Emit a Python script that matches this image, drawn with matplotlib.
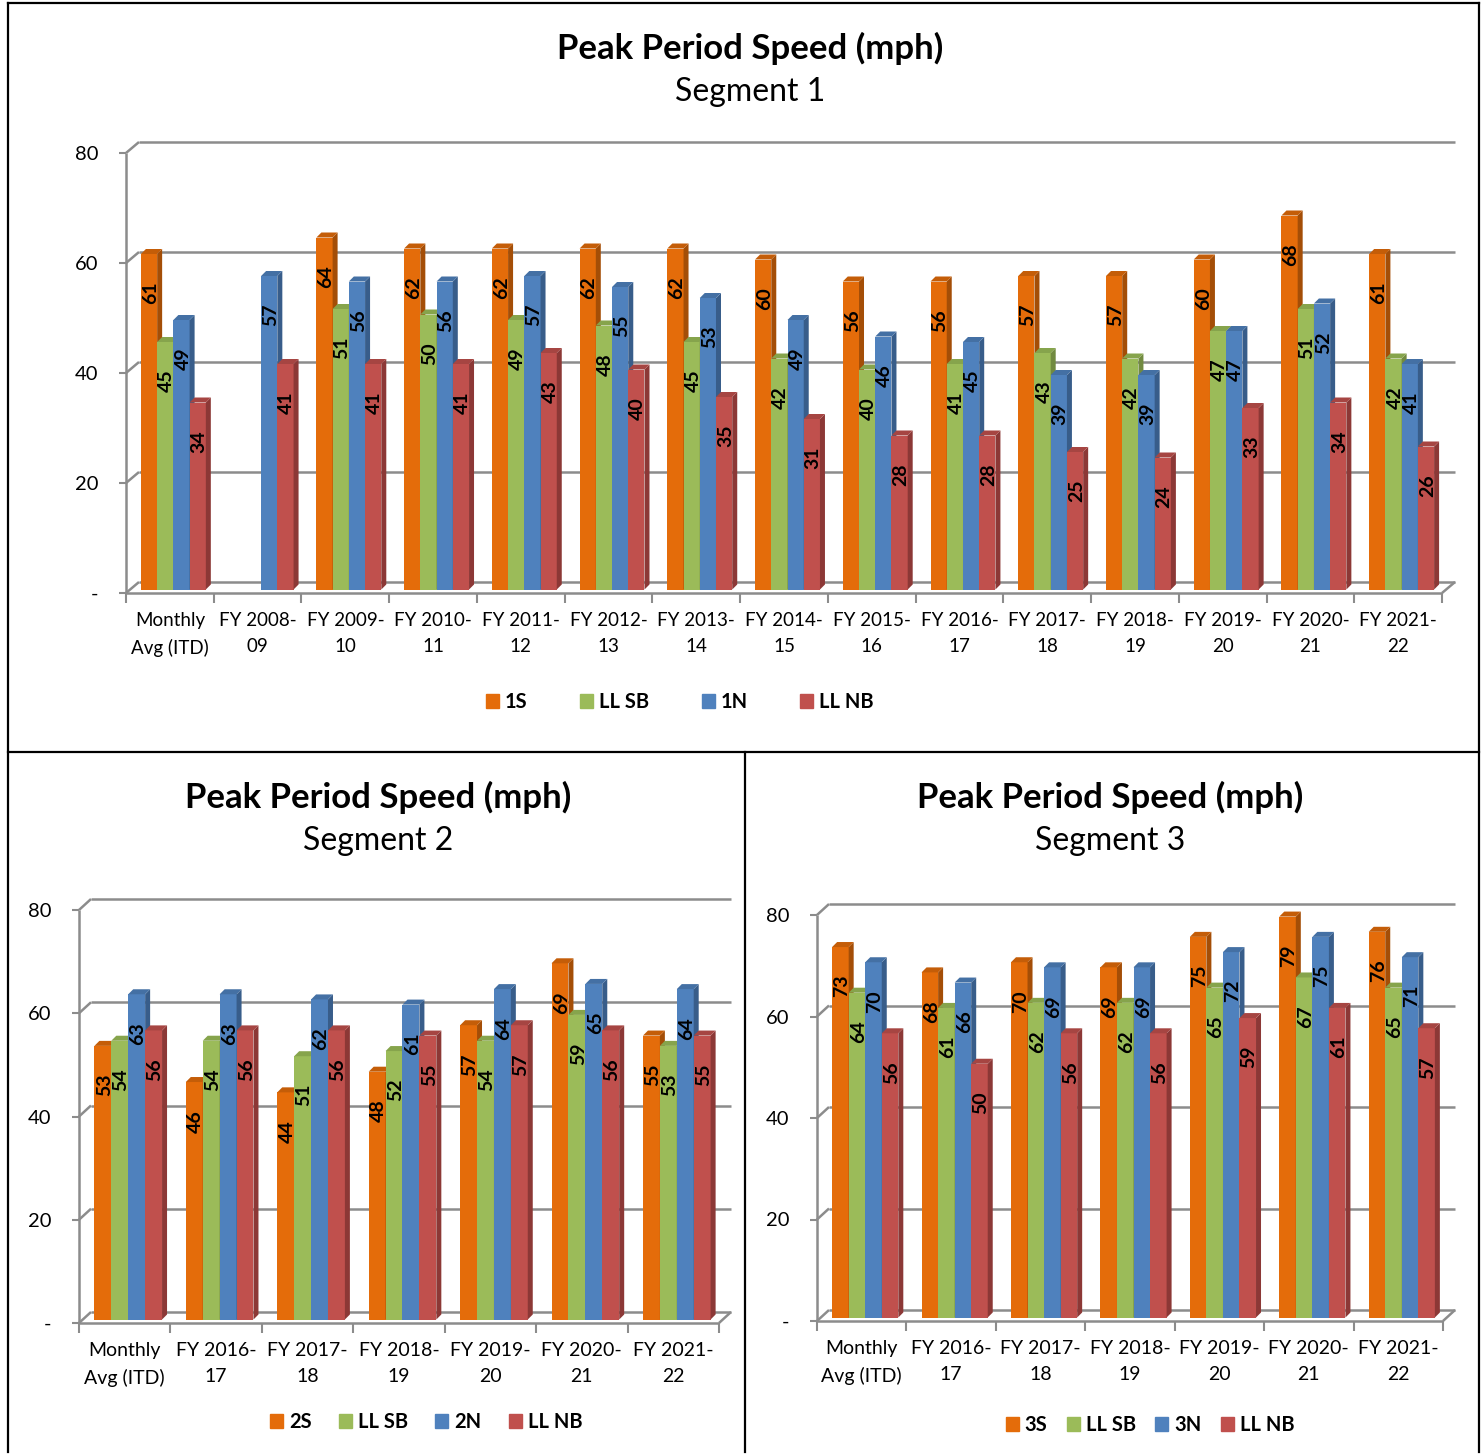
import numpy as np
import matplotlib
matplotlib.use("Agg")
from matplotlib import pyplot as plt
from matplotlib.patches import Polygon, Patch
from matplotlib.lines import Line2D

plt.rcParams['font.family'] = ['Lato', 'DejaVu Sans']

# segment 1
cats_1 = ["Monthly\nAvg (ITD)", "FY 2008-\n09", "FY 2009-\n10", "FY 2010-\n11", "FY 2011-\n12",
          "FY 2012-\n13", "FY 2013-\n14", "FY 2014-\n15", "FY 2015-\n16", "FY 2016-\n17",
          "FY 2017-\n18", "FY 2018-\n19", "FY 2019-\n20", "FY 2020-\n21", "FY 2021-\n22"]
s1_1s = [61, None, 64, 62, 62, 62, 62, 60, 56, 56, 57, 57, 60, 68, 61]
s1_llsb = [45, None, 51, 50, 49, 48, 45, 42, 40, 41, 43, 42, 47, 51, 42]
s1_1n = [49, 57, 56, 56, 57, 55, 53, 49, 46, 45, 39, 39, 47, 52, 41]
s1_llnb = [34, 41, 41, 41, 43, 40, 35, 31, 28, 28, 25, 24, 33, 34, 26]

# segments 2 and 3
cats_23 = ["Monthly\nAvg (ITD)", "FY 2016-\n17", "FY 2017-\n18", "FY 2018-\n19",
           "FY 2019-\n20", "FY 2020-\n21", "FY 2021-\n22"]
s2_2s = [53, 46, 44, 48, 57, 69, 55]
s2_llsb = [54, 54, 51, 52, 54, 59, 53]
s2_2n = [63, 63, 62, 61, 64, 65, 64]
s2_llnb = [56, 56, 56, 55, 57, 56, 55]

s3_3s = [73, 68, 70, 69, 75, 79, 76]
s3_llsb = [64, 61, 62, 62, 65, 67, 65]
s3_3n = [70, 66, 69, 69, 72, 75, 71]
s3_llnb = [56, 50, 56, 56, 59, 61, 57]

yticks = [0, 20, 40, 60, 80]
ytick_labels = ["-", "20", "40", "60", "80"]

# front, side, top colours
colors = [("#E46C0A", "#A44E07", "#C45D08"),
          ("#9BBB59", "#718A40", "#86A44C"),
          ("#4F81BD", "#385D8A", "#4470A4"),
          ("#C0504D", "#8C3836", "#A64542")]
grid_c = "#8C8C8C"

W, H = 1481, 1454
fig = plt.figure(figsize=(W / 100, H / 100), dpi=100)


def fig_box(left, right, y0, y80):
    # pixel box -> figure fraction
    return [left / W, 1 - y0 / H, (right - left) / W, (y0 - y80) / H]


def px_scale(ax):
    p0 = ax.transData.transform((0, 0))
    p1 = ax.transData.transform((1, 1))
    return p1[0] - p0[0], p1[1] - p0[1]


def draw_chart(ax, cats, series, wall=(13, 11), bw=0.185, xsize=14.5):
    n = len(cats)
    ax.set_xlim(-0.5, n - 0.5)
    ax.set_ylim(0, 80)
    for s in ax.spines.values():
        s.set_visible(False)
    sx, sy = px_scale(ax)
    wdx, wdy = wall[0] / sx, wall[1] / sy
    bdx, bdy = 3.5 / sx, 3.5 / sy
    ddx, ddy = 5 / sx, 5 / sy

    # back wall gridlines and floor
    kw = dict(color=grid_c, lw=1.8, clip_on=False, zorder=1, solid_capstyle='butt')
    for v in yticks:
        ax.plot([-0.5, -0.5 + wdx], [v, v + wdy], **kw)
        ax.plot([-0.5 + wdx, n - 0.5 + wdx], [v + wdy, v + wdy], **kw)
    ax.plot([-0.5, -0.5], [0, 80], **kw)
    ax.plot([-0.5, n - 0.5], [0, 0], **kw)
    ax.plot([n - 0.5, n - 0.5 + wdx], [0, wdy], **kw)

    x = np.arange(n)
    for j, vals in enumerate(series):
        front, side, top = colors[j]
        xs = x + (j - 1.5) * bw + bdx
        z = 3 + j
        for i, v in enumerate(vals):
            if v is None:
                continue
            x0, x1 = xs[i] - bw / 2, xs[i] + bw / 2
            ax.bar(xs[i], v, bw, bottom=bdy, color=front, zorder=z, clip_on=False, lw=0)
            ax.add_patch(Polygon([(x1, bdy), (x1 + ddx, bdy + ddy), (x1 + ddx, bdy + v + ddy), (x1, bdy + v)],
                                 closed=True, fc=side, ec='none', zorder=z, clip_on=False))
            ax.add_patch(Polygon([(x0, bdy + v), (x1, bdy + v), (x1 + ddx, bdy + v + ddy), (x0 + ddx, bdy + v + ddy)],
                                 closed=True, fc=top, ec='none', zorder=z, clip_on=False))
            ax.annotate(str(v), (xs[i], bdy + v), xytext=(1, -20), textcoords='offset points',
                        rotation=90, ha='center', va='top', fontsize=14, fontweight='bold',
                        color='black', zorder=10, annotation_clip=False)

    ax.set_yticks(yticks)
    ax.set_yticklabels(ytick_labels)
    ax.tick_params(axis='y', length=5, width=1.5, color=grid_c, pad=15, labelsize=14.5)
    ax.set_xticks(x)
    ax.set_xticklabels(cats, linespacing=1.6)
    ax.tick_params(axis='x', which='major', length=0, pad=14, labelsize=xsize)
    ax.set_xticks(np.arange(n + 1) - 0.5, minor=True)
    ax.tick_params(axis='x', which='minor', length=7, width=1.5, color=grid_c)


def add_titles(xc, y1, y2, seg):
    fig.text(xc / W, 1 - y1 / H, "Peak Period Speed (mph)", ha='center', va='center',
             fontsize=25, fontweight='bold')
    fig.text(xc / W, 1 - y2 / H, seg, ha='center', va='center', fontsize=23)


def add_legend(names, xc, yc, spacing):
    handles = [Patch(color=colors[k][0]) for k in range(4)]
    fig.legend(handles, names, loc='center', bbox_to_anchor=(xc / W, 1 - yc / H), ncol=4,
               frameon=False, prop={'weight': 'bold', 'size': 14.5}, handlelength=0.65,
               handleheight=0.65, handletextpad=0.3, columnspacing=spacing)


ax1 = fig.add_axes(fig_box(126, 1442, 593, 153))
draw_chart(ax1, cats_1, [s1_1s, s1_llsb, s1_1n, s1_llnb], xsize=13.5)
add_titles(750, 48, 92, "Segment 1")
add_legend(["1S", "LL SB", "1N", "LL NB"], 680, 702, 2.6)

ax2 = fig.add_axes(fig_box(79, 719, 1323, 910))
draw_chart(ax2, cats_23, [s2_2s, s2_llsb, s2_2n, s2_llnb], wall=(12, 11), xsize=14)
add_titles(378, 797, 841, "Segment 2")
add_legend(["2S", "LL SB", "2N", "LL NB"], 426, 1422, 1.35)

ax3 = fig.add_axes(fig_box(817, 1443, 1321, 915))
draw_chart(ax3, cats_23, [s3_3s, s3_llsb, s3_3n, s3_llnb], wall=(12, 11), xsize=14)
add_titles(1110, 797, 841, "Segment 3")
add_legend(["3S", "LL SB", "3N", "LL NB"], 1150, 1425, 0.95)

# panel borders
bk = dict(color='black', lw=1.6, transform=fig.transFigure)
for xa, ya, xb, yb in [(8, 3, 1479, 3), (8, 3, 8, 1452), (1479, 3, 1479, 1452),
                       (8, 752, 1479, 752), (745, 752, 745, 1452)]:
    fig.add_artist(Line2D([xa / W, xb / W], [1 - ya / H, 1 - yb / H], **bk))

fig.savefig("out.png", dpi=100, facecolor='white')
